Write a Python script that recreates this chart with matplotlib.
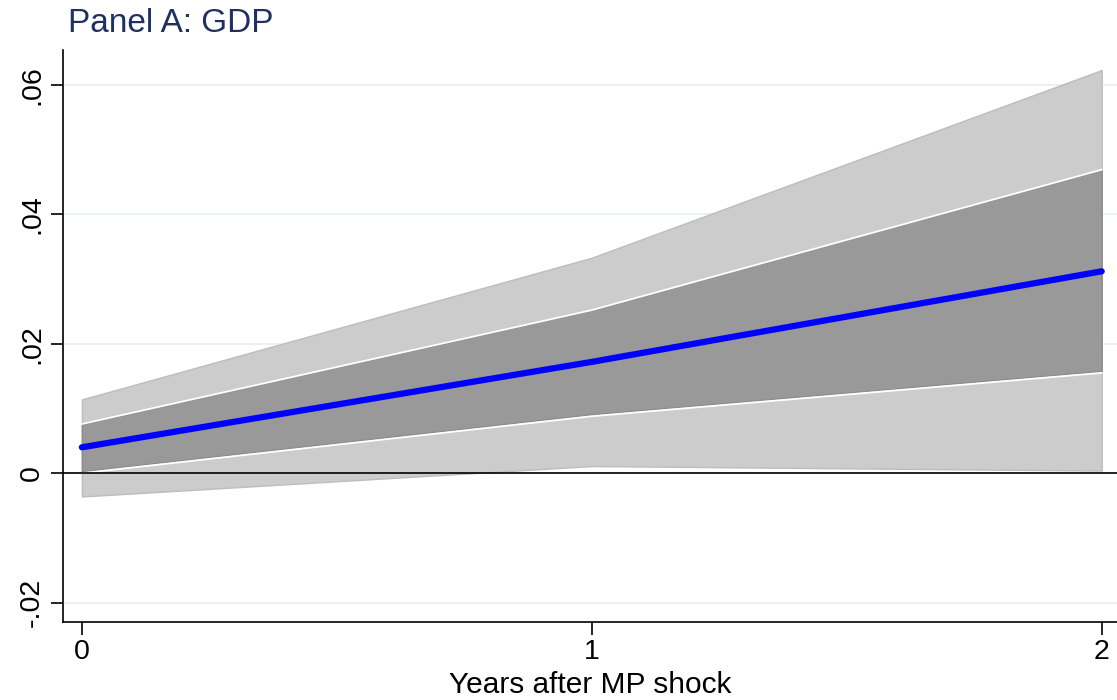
import matplotlib.pyplot as plt

plt.rcParams['font.family'] = ['Liberation Sans', 'DejaVu Sans']

years = [0, 1, 2]
irf = [0.0040, 0.0172, 0.0312]
lo68 = [0.0003, 0.0091, 0.0158]
hi68 = [0.0076, 0.0252, 0.0469]
lo90 = [-0.0036, 0.0011, 0.0004]
hi90 = [0.0114, 0.0333, 0.0623]

yticks = [-0.02, 0, 0.02, 0.04, 0.06]
ylabels = ['-.02', '0', '.02', '.04', '.06']

fig = plt.figure(figsize=(11.17, 7), dpi=100)
ax = fig.add_axes([0.0564, 0.1114, 0.9436, 0.8172])

# confidence bands
ax.fill_between(years, lo90, hi90, color='#cccccc', edgecolor='#bdbdbd', lw=1, zorder=2)
ax.fill_between(years, lo68, hi68, color='#999999', edgecolor='#8c8c8c', lw=1, zorder=3)
ax.plot(years, hi68, color='white', lw=1.3, zorder=3.5)
ax.plot(years, [v - 0.0003 for v in lo68], color='white', lw=1.3, zorder=3.5)
ax.axhline(0, color='black', lw=1.2, zorder=4)
ax.plot(years, irf, color='#0000ff', lw=4.5, solid_capstyle='round', zorder=5)

ax.set_xlim(-0.037, 2.03)
ax.set_ylim(-0.023, 0.0654)
ax.set_xticks(years)
ax.set_yticks(yticks)
ax.set_yticklabels(ylabels, rotation=90, va='center')
ax.tick_params(axis='both', labelsize=20.5, length=9, width=1.2, color='black')
ax.tick_params(axis='y', pad=4)
ax.grid(axis='y', color='#eaf1f3', lw=1.5, zorder=0)
ax.set_axisbelow(True)
for s in ['top', 'right']:
    ax.spines[s].set_visible(False)
for s in ['left', 'bottom']:
    ax.spines[s].set_linewidth(1.2)

ax.set_xlabel('Years after MP shock', fontsize=21.5, labelpad=4)
fig.text(0.061, 0.954, 'Panel A: GDP', fontsize=24, color='#1e3160', va='baseline')

fig.savefig('out.png', dpi=100)
